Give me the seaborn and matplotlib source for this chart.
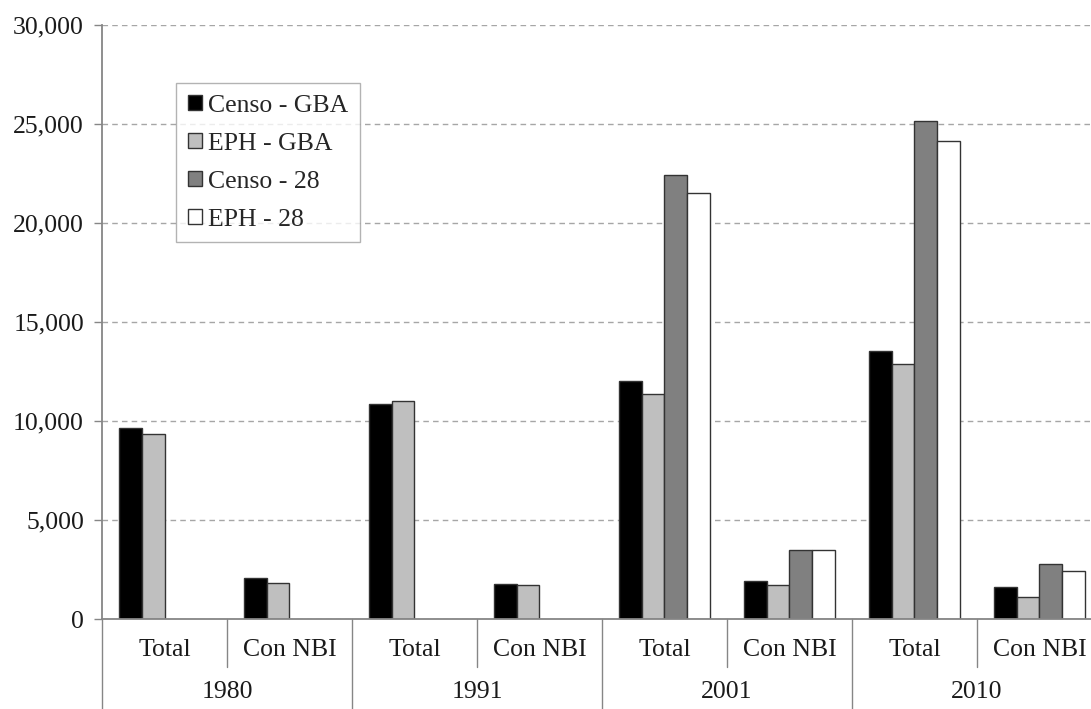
import numpy as np
import pandas as pd
import matplotlib
matplotlib.use("Agg")
import matplotlib.pyplot as plt
import matplotlib.transforms as mtransforms
from matplotlib.ticker import FuncFormatter, MultipleLocator
import seaborn as sns

# Households by source, year and NBI condition
years = ["1980", "1991", "2001", "2010"]
subgroups = ["Total", "Con NBI"]
series = ["Censo - GBA", "EPH - GBA", "Censo - 28", "EPH - 28"]

censo_gba = [9650, 2080, 10870, 1790, 12000, 1900, 13520, 1630]
eph_gba = [9350, 1830, 11030, 1720, 11380, 1720, 12860, 1130]
censo_28 = [np.nan, np.nan, np.nan, np.nan, 22400, 3460, 25150, 2780]
eph_28 = [np.nan, np.nan, np.nan, np.nan, 21500, 3460, 24150, 2420]

colors = ["#000000", "#bfbfbf", "#808080", "#ffffff"]

# Long-form table for seaborn
keys = [f"{y} {s}" for y in years for s in subgroups]
rows = []
for name, vals in zip(series, [censo_gba, eph_gba, censo_28, eph_28]):
    for k, v in zip(keys, vals):
        rows.append({"grupo": k, "serie": name, "valor": v})
df = pd.DataFrame(rows)

sns.set_theme(style="white")
plt.rcParams["font.family"] = ["Liberation Serif", "DejaVu Serif"]
FS = 18.5

fig = plt.figure(figsize=(10.91, 7.09), dpi=100)
ax = fig.add_axes([102 / 1091, 90 / 709, 1000 / 1091, 594 / 709])

sns.barplot(data=df, x="grupo", y="valor", hue="serie", order=keys,
            hue_order=series, palette=colors, width=0.73, saturation=1,
            edgecolor="#333333", linewidth=1.0, ax=ax, legend=True)

ax.set_xlim(-0.5, len(keys) - 0.5)
ax.set_ylim(0, 30000)
ax.yaxis.set_major_locator(MultipleLocator(5000))
ax.yaxis.set_major_formatter(FuncFormatter(lambda v, p: f"{int(v):,}"))
ax.grid(axis="y", color="#a6a6a6", linestyle=(0, (4, 3)), linewidth=1.0)
ax.set_axisbelow(True)
ax.set_xlabel("")
ax.set_ylabel("")

for side in ["top", "right"]:
    ax.spines[side].set_visible(False)
for side in ["left", "bottom"]:
    ax.spines[side].set_color("#868686")
    ax.spines[side].set_linewidth(1.3)

ax.tick_params(axis="y", which="major", left=True, length=6, width=1,
               color="#868686", labelsize=FS, labelcolor="#1a1a1a", pad=7)
ax.tick_params(axis="x", bottom=False, labelbottom=False)

# Two-level category axis under the plot
trans = mtransforms.blended_transform_factory(ax.transData, ax.transAxes)
y_bottom = -90 / 594
for i, k in enumerate(keys):
    ax.text(i, -31 / 594, subgroups[i % 2], transform=trans, ha="center",
            va="center", fontsize=FS, color="#1a1a1a")
for j, y in enumerate(years):
    ax.text(2 * j + 0.5, -73 / 594, y, transform=trans, ha="center",
            va="center", fontsize=FS, color="#1a1a1a")
    # separator between the two subgroups of a year
    ax.plot([2 * j + 0.5, 2 * j + 0.5], [0, -48 / 594], transform=trans,
            color="#868686", lw=1.0, clip_on=False)
    # separator between years
    ax.plot([2 * j - 0.5, 2 * j - 0.5], [0, y_bottom], transform=trans,
            color="#868686", lw=1.0, clip_on=False)

leg = ax.legend(loc="upper left", bbox_to_anchor=(0.074, 0.902),
                borderaxespad=0, fontsize=FS, frameon=True, fancybox=False,
                edgecolor="#a0a0a0", handlelength=0.55, handleheight=0.55,
                handletextpad=0.25, labelspacing=0.62, borderpad=0.45)
leg.get_frame().set_linewidth(1.0)
for h in leg.legend_handles:
    h.set_edgecolor("#333333")
    h.set_linewidth(1.0)

fig.savefig("out.png", dpi=100)
